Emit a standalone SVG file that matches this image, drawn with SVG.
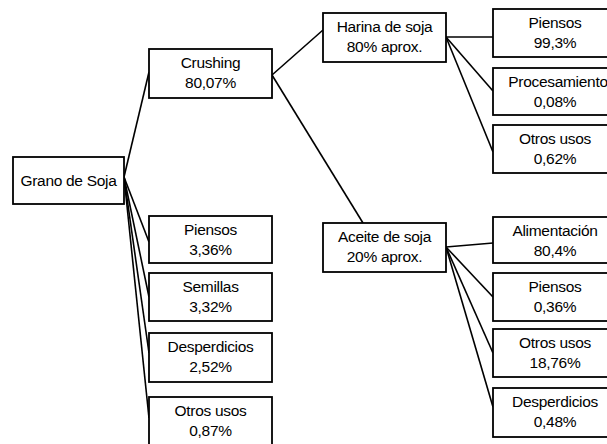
<svg xmlns="http://www.w3.org/2000/svg" width="607" height="444" viewBox="0 0 607 444">
<style>
rect{fill:#fff;stroke:#000;stroke-width:1.8}
text{font-family:"Liberation Sans",Arial,sans-serif;font-size:15.5px;fill:#000;text-anchor:middle;letter-spacing:-0.3px}
.c line{stroke:#000;stroke-width:1.6}
</style>
<rect x="0" y="0" width="607" height="444" style="fill:#fff;stroke:none"/>
<g class="c" id="connectors">
<line x1="124" y1="177" x2="149" y2="72"/>
<line x1="124" y1="177" x2="149" y2="242"/>
<line x1="124" y1="177" x2="149" y2="297"/>
<line x1="124" y1="177" x2="149" y2="353"/>
<line x1="124" y1="177" x2="149" y2="418"/>
<line x1="272" y1="75" x2="323" y2="30"/>
<line x1="272" y1="75" x2="363" y2="223"/>
<line x1="446" y1="37" x2="493" y2="37"/>
<line x1="446" y1="37" x2="493" y2="91"/>
<line x1="446" y1="37" x2="493" y2="152"/>
<line x1="446" y1="247" x2="493" y2="243"/>
<line x1="446" y1="247" x2="493" y2="297"/>
<line x1="446" y1="247" x2="493" y2="353"/>
<line x1="446" y1="247" x2="493" y2="407"/>
</g>
<g id="grano"><rect x="13" y="157" width="111" height="47"/><text x="68.5" y="186">Grano de Soja</text></g>
<g id="crushing"><rect x="149" y="49" width="123" height="49"/><text x="210.5" y="68">Crushing</text><text x="210.5" y="88">80,07%</text></g>
<g id="harina"><rect x="323" y="13" width="123" height="49"/><text x="384.5" y="32">Harina de soja</text><text x="384.5" y="52">80% aprox.</text></g>
<g id="aceite"><rect x="323" y="223" width="123" height="49"/><text x="384.5" y="242">Aceite de soja</text><text x="384.5" y="262">20% aprox.</text></g>
<g id="h-piensos"><rect x="493" y="9" width="124" height="48"/><text x="555" y="28">Piensos</text><text x="555" y="48">99,3%</text></g>
<g id="h-procesamiento"><rect x="493" y="68" width="124" height="47"/><text x="558" y="87">Procesamiento</text><text x="555" y="107">0,08%</text></g>
<g id="h-otros"><rect x="493" y="125" width="124" height="48"/><text x="555" y="144">Otros usos</text><text x="555" y="164">0,62%</text></g>
<g id="a-alimentacion"><rect x="493" y="217" width="124" height="46"/><text x="555" y="236">Alimentación</text><text x="555" y="256">80,4%</text></g>
<g id="a-piensos"><rect x="493" y="273" width="124" height="48"/><text x="555" y="292">Piensos</text><text x="555" y="312">0,36%</text></g>
<g id="a-otros"><rect x="493" y="329" width="124" height="48"/><text x="555" y="348">Otros usos</text><text x="555" y="368">18,76%</text></g>
<g id="a-desperdicios"><rect x="493" y="388" width="124" height="49"/><text x="555" y="407">Desperdicios</text><text x="555" y="427">0,48%</text></g>
<g id="g-piensos"><rect x="149" y="216" width="123" height="47"/><text x="210.5" y="235">Piensos</text><text x="210.5" y="255">3,36%</text></g>
<g id="g-semillas"><rect x="149" y="273" width="123" height="48"/><text x="210.5" y="292">Semillas</text><text x="210.5" y="312">3,32%</text></g>
<g id="g-desperdicios"><rect x="149" y="333" width="123" height="49"/><text x="210.5" y="352">Desperdicios</text><text x="210.5" y="372">2,52%</text></g>
<g id="g-otros"><rect x="149" y="397" width="123" height="50"/><text x="210.5" y="416">Otros usos</text><text x="210.5" y="436">0,87%</text></g>
</svg>
